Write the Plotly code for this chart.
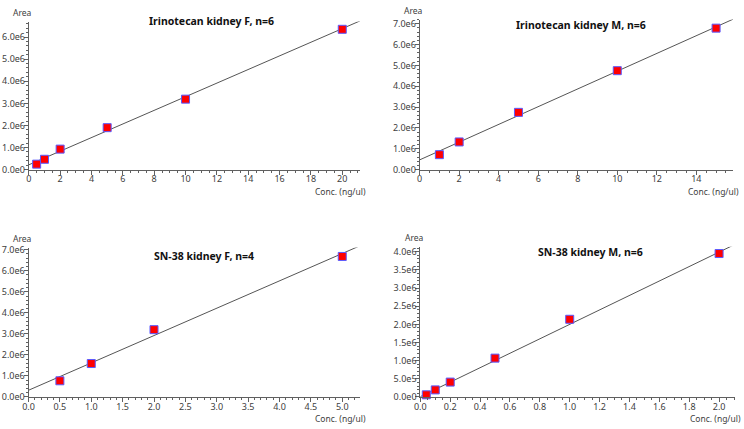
import plotly.graph_objects as go

W, H = 744, 429

# ---- data ----
titles = ["Irinotecan kidney F, n=6", "Irinotecan kidney M, n=6",
          "SN-38 kidney F, n=4", "SN-38 kidney M, n=6"]
conc_irino_f = [0.5, 1, 2, 5, 10, 20]
area_irino_f = [0.25e6, 0.47e6, 0.93e6, 1.90e6, 3.19e6, 6.35e6]
conc_irino_m = [1, 2, 5, 10, 15]
area_irino_m = [0.72e6, 1.33e6, 2.75e6, 4.75e6, 6.79e6]
conc_sn38_f = [0.5, 1, 2, 5]
area_sn38_f = [0.77e6, 1.59e6, 3.20e6, 6.68e6]
conc_sn38_m = [0.04, 0.1, 0.2, 0.5, 1.0, 2.0]
area_sn38_m = [0.06e6, 0.195e6, 0.41e6, 1.07e6, 2.14e6, 3.95e6]
fit_slope = [0.308e6, 0.4256e6, 1.30e6, 1.99e6]
fit_intercept = [0.22e6, 0.47e6, 0.32e6, 0.01e6]
x_max = [21.14, 15.86, 5.28, 2.105]
y_max = [6.7e6, 7.2e6, 7.1e6, 4.14e6]
x_dtick = [2, 2, 0.5, 0.2]
x_minor = [0.5, 0.5, 0.1, 0.05]
y_ticks_1 = [0, 1e6, 2e6, 3e6, 4e6, 5e6, 6e6]
y_text_1 = ["0.0e0", "1.0e6", "2.0e6", "3.0e6", "4.0e6", "5.0e6", "6.0e6"]
y_ticks_2 = [0, 1e6, 2e6, 3e6, 4e6, 5e6, 6e6, 7e6]
y_text_2 = ["0.0e0", "1.0e6", "2.0e6", "3.0e6", "4.0e6", "5.0e6", "6.0e6", "7.0e6"]
y_ticks_4 = [0, 0.5e6, 1e6, 1.5e6, 2e6, 2.5e6, 3e6, 3.5e6, 4e6]
y_text_4 = ["0.0e0", "5.0e5", "1.0e6", "1.5e6", "2.0e6", "2.5e6", "3.0e6", "3.5e6", "4.0e6"]
y_minor = [0.2e6, 0.2e6, 0.2e6, 0.1e6]
x_tickfmt = ["d", "d", ".1f", ".1f"]

series = [(conc_irino_f, area_irino_f), (conc_irino_m, area_irino_m),
          (conc_sn38_f, area_sn38_f), (conc_sn38_m, area_sn38_m)]
yticks = [(y_ticks_1, y_text_1), (y_ticks_2, y_text_2),
          (y_ticks_2, y_text_2), (y_ticks_4, y_text_4)]

# ---- layout (pixel boxes) ----
# (left, right, top, bottom) in px
boxes = [(23, 357, 17, 169), (417, 733, 15, 169),
         (22.7, 356.7, 249, 402.3), (417.7, 734.7, 248, 402.3)]
title_pos = [(207, 16), (580, 21), (200, 258), (589, 254)]

FONT = "Noto Sans"
TICKC = "#404040"

fig = go.Figure()
layout = dict(width=W, height=H, margin=dict(l=0, r=0, t=0, b=0),
              paper_bgcolor="white", plot_bgcolor="white", showlegend=False,
              font=dict(family=FONT, size=9, color=TICKC))
annotations = []

for i in range(4):
    xs, ys = series[i]
    sfx = "" if i == 0 else str(i + 1)
    xa, ya = "x" + sfx, "y" + sfx
    l, r, t, b = boxes[i]
    # fit line
    lx = [0, x_max[i]]
    ly = [fit_intercept[i] + fit_slope[i] * v for v in lx]
    fig.add_trace(go.Scatter(x=lx, y=ly, mode="lines", xaxis=xa, yaxis=ya,
                             line=dict(color="#555555", width=1), cliponaxis=True,
                             hoverinfo="skip"))
    fig.add_trace(go.Scatter(x=xs, y=ys, mode="markers", xaxis=xa, yaxis=ya,
                             marker=dict(symbol="square", size=8, color="#ff0000",
                                         line=dict(color="#5a5aff", width=1)),
                             cliponaxis=False))
    common = dict(showgrid=False, zeroline=False, showline=True, linecolor="#606060",
                  linewidth=1, ticks="outside", tickcolor="#606060", ticklen=4,
                  tickfont=dict(family=FONT, size=9, color=TICKC))
    layout["xaxis" + sfx] = dict(common, domain=[l / W, r / W], range=[0, x_max[i]],
                                 anchor=ya, dtick=x_dtick[i], tick0=0,
                                 tickformat=x_tickfmt[i], ticklabelstandoff=-3,
                                 minor=dict(dtick=x_minor[i], tick0=0, ticks="outside",
                                            ticklen=2, tickcolor="#606060"))
    layout["yaxis" + sfx] = dict(common, domain=[1 - b / H, 1 - t / H], range=[0, y_max[i]],
                                 anchor=xa, tickmode="array", tickvals=yticks[i][0],
                                 ticktext=yticks[i][1], ticklabelstandoff=-3,
                                 minor=dict(dtick=y_minor[i], tick0=0, ticks="outside",
                                            ticklen=2, tickcolor="#606060"))
    annotations.append(dict(text="Area", x=l - 6, y=t - 9, xref="paper", yref="paper",
                            showarrow=False, xanchor="center", yanchor="middle",
                            font=dict(family=FONT, size=8.5, color=TICKC)))
    annotations.append(dict(text="Conc. (ng/ul)", x=r + 7, y=b + 22, xref="paper",
                            yref="paper", showarrow=False, xanchor="right",
                            yanchor="middle", borderpad=0,
                            font=dict(family=FONT, size=8.5, color=TICKC)))
    tx, ty = title_pos[i]
    annotations.append(dict(text="<b>" + titles[i] + "</b>", x=tx, y=ty, xref="paper",
                            yref="paper", showarrow=False, xanchor="center",
                            yanchor="middle",
                            font=dict(family=FONT, size=10.5, color="#111111")))

# convert annotation px to paper fractions
for a in annotations:
    a["x"] = a["x"] / W
    a["y"] = 1 - a["y"] / H
layout["annotations"] = annotations
fig.update_layout(**layout)
fig.write_html("out.html")
